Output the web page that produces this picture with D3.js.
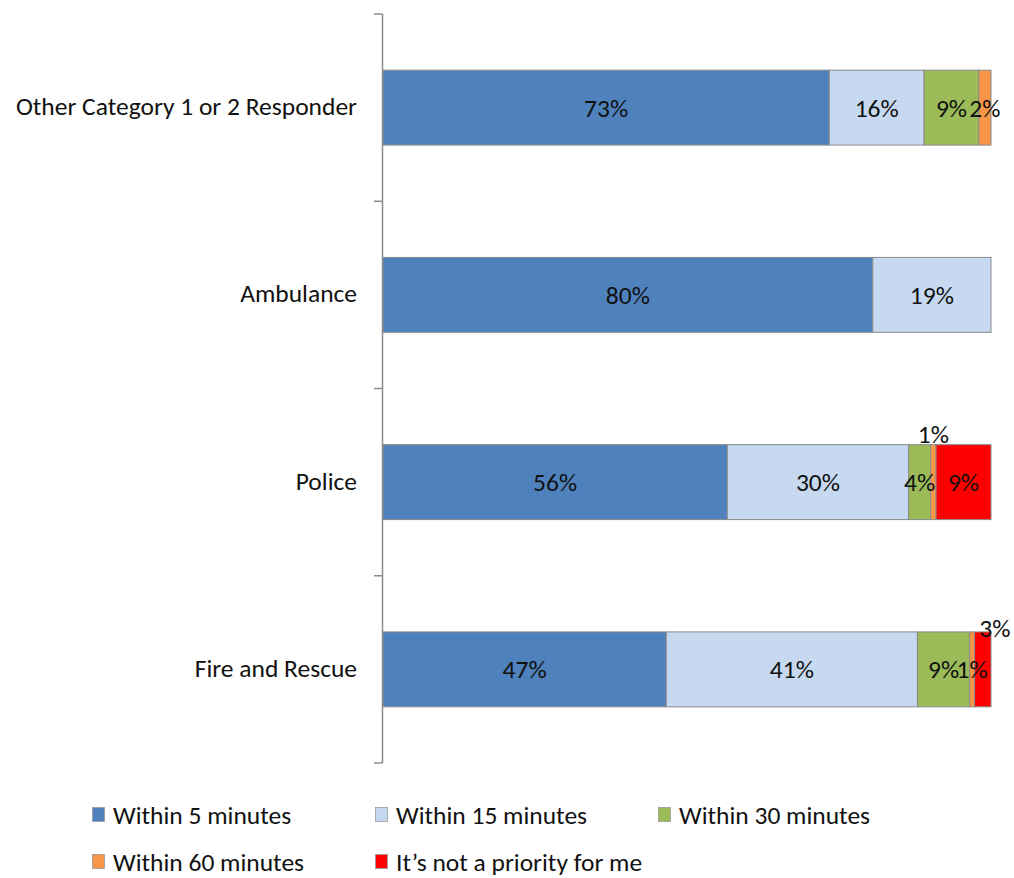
<!DOCTYPE html>
<html lang="en">
<head>
  <meta charset="UTF-8">
  <script src="https://d3js.org/d3.v7.min.js"></script>
  <style>
    body { margin: 0; background: #fff; }
    text { font-family: Carlito, Lato, sans-serif; fill: #111; }
  </style>
</head>
<body>
  <script>
    // categories, top to bottom
    const categories = ["Other Category 1 or 2 Responder", "Ambulance", "Police", "Fire and Rescue"];
    const seriesNames = ["Within 5 minutes", "Within 15 minutes", "Within 30 minutes", "Within 60 minutes", "It\u2019s not a priority for me"];
    const seriesColors = ["#4F81BD", "#C6D9F1", "#9BBB59", "#F79646", "#FF0000"];

    // shares per category (percent), one array per series
    const within5 = [73.4, 80.4, 56.4, 46.6];
    const within15 = [15.6, 19.4, 29.7, 41.3];
    const within30 = [9.0, 0, 3.6, 8.6];
    const within60 = [2.0, 0, 0.9, 0.8];
    const notPriority = [0, 0, 9.0, 2.7];

    // labels that sit above the bar instead of inside it
    const outsideLabels = [
      { cat: "Police", series: 3, dx: 0, dy: -2 },
      { cat: "Fire and Rescue", series: 4, dx: 12, dy: 5 }
    ];

    const width = 1014, height = 878;
    const plotLeft = 383, plotRight = 991, plotTop = 14, plotBottom = 763;
    const fontSize = "25.5px";

    const svg = d3.select("body").append("svg")
      .attr("width", width)
      .attr("height", height);

    const seriesValues = [within5, within15, within30, within60, notPriority];
    const rows = categories.map((c, i) => {
      const row = { cat: c };
      const total = d3.sum(seriesValues, s => s[i]);
      seriesValues.forEach((s, j) => { row[j] = s[i] / total; row["raw" + j] = s[i]; });
      return row;
    });

    const stack = d3.stack().keys(d3.range(seriesNames.length));
    const stacked = stack(rows);

    const y = d3.scaleBand()
      .domain(categories)
      .range([plotTop, plotBottom])
      .paddingInner(0.6)
      .paddingOuter(0.3);

    const x = d3.scaleLinear().domain([0, 1]).range([plotLeft, plotRight]);

    // axis with ticks at band boundaries
    const step = y.step();
    const boundaries = categories.map(c => y(c) - step * y.paddingOuter()).concat([plotBottom]);
    svg.append("line")
      .attr("x1", plotLeft - 0.5).attr("x2", plotLeft - 0.5)
      .attr("y1", plotTop).attr("y2", plotBottom)
      .attr("stroke", "#8c8c8c").attr("stroke-width", 1.5);
    svg.selectAll(".tick-mark")
      .data(boundaries)
      .enter().append("line")
      .attr("x1", plotLeft - 9).attr("x2", plotLeft - 0.5)
      .attr("y1", d => d).attr("y2", d => d)
      .attr("stroke", "#8c8c8c").attr("stroke-width", 1.5);

    const yAxis = svg.append("g")
      .attr("transform", `translate(${plotLeft},0)`)
      .call(d3.axisLeft(y).tickSize(0).tickPadding(26));
    yAxis.select(".domain").remove();
    yAxis.selectAll("text")
      .style("font-family", "Carlito, Lato, sans-serif")
      .style("font-size", fontSize)
      .attr("dy", "0.29em")
      .attr("fill", "#111");

    // bars
    const layers = svg.selectAll(".layer")
      .data(stacked)
      .enter().append("g")
      .attr("fill", (d, i) => seriesColors[i]);

    layers.selectAll("rect")
      .data(d => d.filter(p => p[1] - p[0] > 0))
      .enter().append("rect")
      .attr("x", d => x(d[0]))
      .attr("y", d => y(d.data.cat))
      .attr("width", d => x(d[1]) - x(d[0]))
      .attr("height", y.bandwidth())
      .attr("stroke", "#8a8a8a")
      .attr("stroke-width", 1);

    // value labels
    stacked.forEach((layer, i) => {
      layer.forEach(p => {
        if (p[1] - p[0] <= 0) return;
        const out = outsideLabels.find(o => o.cat === p.data.cat && o.series === i);
        let tx = (x(p[0]) + x(p[1])) / 2;
        let ty = y(p.data.cat) + y.bandwidth() / 2 + 9;
        if (out) {
          tx += out.dx;
          ty = y(p.data.cat) + out.dy;
        }
        svg.append("text")
          .attr("x", tx)
          .attr("y", ty)
          .attr("text-anchor", "middle")
          .style("font-size", fontSize)
          .text(Math.round(p.data["raw" + i]) + "%");
      });
    });

    // legend
    const legendPos = [[92, 815], [375, 815], [658, 815], [92, 862], [375, 862]];
    const legend = svg.selectAll(".legend")
      .data(seriesNames)
      .enter().append("g")
      .attr("transform", (d, i) => `translate(${legendPos[i][0]},${legendPos[i][1]})`);
    legend.append("rect")
      .attr("x", 0.5).attr("y", -7.5)
      .attr("width", 12).attr("height", 14)
      .attr("fill", (d, i) => seriesColors[i])
      .attr("stroke", "#9a9a9a").attr("stroke-width", 0.8);
    legend.append("text")
      .attr("x", 21)
      .attr("y", 9)
      .style("font-size", fontSize)
      .text(d => d);
  </script>
</body>
</html>
